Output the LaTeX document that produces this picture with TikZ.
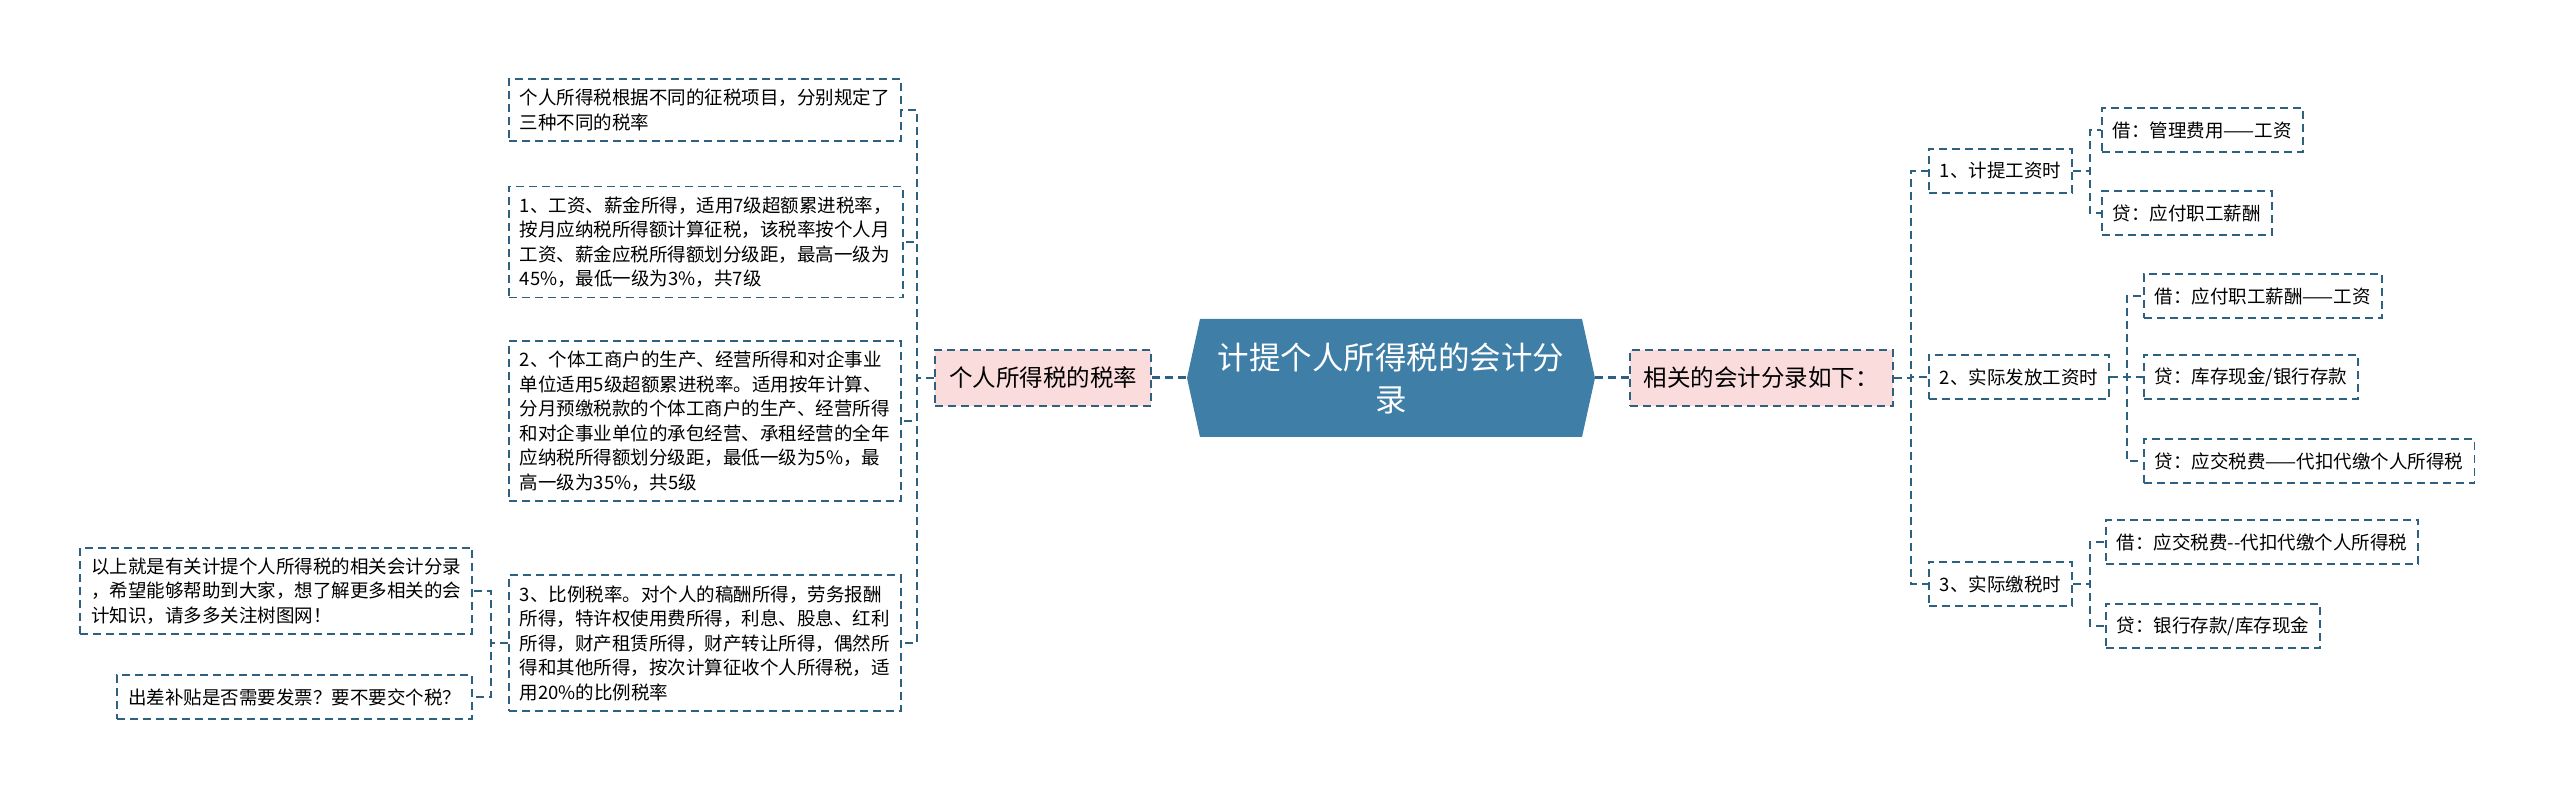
\documentclass[tikz,border=0pt]{standalone}
\usepackage{fontspec}
\setmainfont{Noto Sans CJK SC}
\definecolor{linec}{HTML}{2E6080}
\definecolor{rootc}{HTML}{3F7EA6}
\definecolor{pinkc}{HTML}{FBDCDC}
\tikzset{
  conn/.style={draw=linec, line width=1.5pt, dash pattern=on 8pt off 5pt},
  box/.style={draw=linec, line width=1.8pt, dash pattern=on 8pt off 5pt, align=left,
    inner xsep=11pt, inner ysep=10pt, font=\fontsize{18.5}{24.5}\selectfont},
  leaf/.style={box, minimum height=44pt},
  topic/.style={box, fill=pinkc, minimum height=56pt, inner xsep=14pt,
    font=\fontsize{23.5}{28}\selectfont},
  root/.style={minimum width=408pt, minimum height=118pt, inner sep=0pt, text=white,
    align=center, font=\fontsize{31.5}{42}\selectfont,
    path picture={\fill[rootc] ([xshift=13pt]path picture bounding box.north west)
      -- ([xshift=-13pt]path picture bounding box.north east) -- (path picture bounding box.east)
      -- ([xshift=-13pt]path picture bounding box.south east)
      -- ([xshift=13pt]path picture bounding box.south west) -- (path picture bounding box.west) -- cycle;}}
}
\begin{document}
\begin{tikzpicture}[x=1pt,y=-1pt]
    \useasboundingbox (0,0) rectangle (2560,799);
    \node[root] (root) at (1391,378) {计提个人所得税的会计分\\录};
    \node[topic, anchor=east] (rate) at (1152,378) {个人所得税的税率};
    \node[topic, anchor=west] (acc) at (1629,378) {相关的会计分录如下：};
    % left branch
    \node[box, anchor=west] (b0) at (508,110) {个人所得税根据不同的征税项目，分别规定了\\三种不同的税率};
    \node[box, anchor=west] (b1) at (508,242) {1、工资、薪金所得，适用7级超额累进税率，\\按月应纳税所得额计算征税，该税率按个人月\\工资、薪金应税所得额划分级距，最高一级为\\45\%，最低一级为3\%，共7级};
    \node[box, anchor=west] (b2) at (508,421) {2、个体工商户的生产、经营所得和对企事业\\单位适用5级超额累进税率。适用按年计算、\\分月预缴税款的个体工商户的生产、经营所得\\和对企事业单位的承包经营、承租经营的全年\\应纳税所得额划分级距，最低一级为5\%，最\\高一级为35\%，共5级};
    \node[box, anchor=west] (b3) at (508,643) {3、比例税率。对个人的稿酬所得，劳务报酬\\所得，特许权使用费所得，利息、股息、红利\\所得，财产租赁所得，财产转让所得，偶然所\\得和其他所得，按次计算征收个人所得税，适\\用20\%的比例税率};
    \node[box, anchor=east] (n1) at (473,591) {以上就是有关计提个人所得税的相关会计分录\\，希望能够帮助到大家，想了解更多相关的会\\计知识，请多多关注树图网！};
    \node[leaf, anchor=east] (n2) at (473,697) {出差补贴是否需要发票？要不要交个税？};
    % right branch
    \node[leaf, anchor=west] (s1) at (1928,171) {1、计提工资时};
    \node[leaf, anchor=west] (s2) at (1928,377) {2、实际发放工资时};
    \node[leaf, anchor=west] (s3) at (1928,584) {3、实际缴税时};
    \node[leaf, anchor=west] (l11) at (2101,130) {借：管理费用——工资};
    \node[leaf, anchor=west] (l12) at (2101,213) {贷：应付职工薪酬};
    \node[leaf, anchor=west] (l21) at (2143,296) {借：应付职工薪酬——工资};
    \node[leaf, anchor=west] (l22) at (2143,377) {贷：库存现金/银行存款};
    \node[leaf, anchor=west] (l23) at (2143,461) {贷：应交税费——代扣代缴个人所得税};
    \node[leaf, anchor=west] (l31) at (2105,542) {借：应交税费-{}-代扣代缴个人所得税};
    \node[leaf, anchor=west] (l32) at (2105,626) {贷：银行存款/库存现金};

    \draw[conn, line width=3pt] (rate) -- (root);
    \draw[conn, line width=3pt] (root) -- (acc);
    \foreach \b in {b0,b1,b2,b3} \draw[conn] (rate.west) -- ++(-17,0) |- (\b.east);
    \foreach \b in {n1,n2} \draw[conn] (b3.west) -- ++(-17,0) |- (\b.east);
    \foreach \b in {s1,s2,s3} \draw[conn] (acc.east) -- ++(17,0) |- (\b.west);
    \foreach \b in {l11,l12} \draw[conn] (s1.east) -- ++(17,0) |- (\b.west);
    \foreach \b in {l21,l22,l23} \draw[conn] (s2.east) -- ++(17,0) |- (\b.west);
    \foreach \b in {l31,l32} \draw[conn] (s3.east) -- ++(17,0) |- (\b.west);
\end{tikzpicture}
\end{document}
